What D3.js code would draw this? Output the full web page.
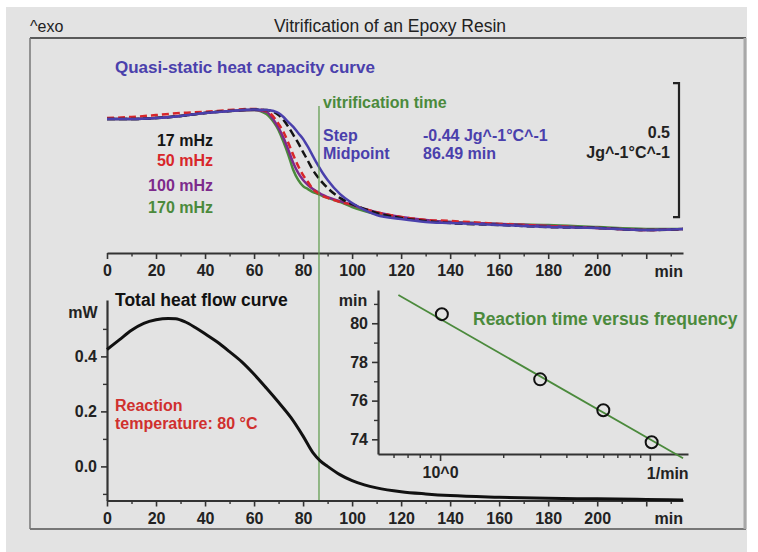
<!DOCTYPE html>
<html lang="en">
<head>
<meta charset="UTF-8" />
<title>Vitrification of an Epoxy Resin</title>
<script src="https://cdn.jsdelivr.net/npm/d3@7"></script>
<style>
  body { margin: 0; background: #fff; }
  svg text { font-family: "Liberation Sans", Arial, sans-serif; }
</style>
</head>
<body>
<script>
const width = 758, height = 552;

// time axis (min), shared by both panels
const times = [0, 10, 20, 30, 40, 50, 60, 65, 68, 70, 72, 74, 76, 78, 80, 82, 84, 86, 88, 90, 95, 100, 105, 110, 120, 130, 140, 160, 180, 200, 220, 235];

// heat capacity, J/g/°C
const cpQuasi = [1.866, 1.866, 1.870, 1.878, 1.889, 1.896, 1.902, 1.900, 1.896, 1.889, 1.874, 1.855, 1.837, 1.814, 1.792, 1.762, 1.728, 1.695, 1.665, 1.639, 1.587, 1.553, 1.527, 1.508, 1.493, 1.482, 1.478, 1.471, 1.463, 1.460, 1.452, 1.456];
const cp17 = [1.866, 1.866, 1.870, 1.878, 1.889, 1.896, 1.902, 1.900, 1.893, 1.881, 1.863, 1.837, 1.807, 1.777, 1.743, 1.710, 1.676, 1.650, 1.628, 1.609, 1.572, 1.549, 1.531, 1.516, 1.497, 1.486, 1.478, 1.471, 1.463, 1.460, 1.452, 1.456];
const cp50 = [1.870, 1.874, 1.881, 1.889, 1.893, 1.900, 1.904, 1.896, 1.874, 1.848, 1.818, 1.777, 1.732, 1.691, 1.657, 1.631, 1.605, 1.590, 1.579, 1.572, 1.557, 1.546, 1.531, 1.519, 1.501, 1.490, 1.486, 1.475, 1.467, 1.460, 1.452, 1.456];
const cp100 = [1.866, 1.866, 1.870, 1.878, 1.889, 1.896, 1.900, 1.893, 1.863, 1.833, 1.796, 1.751, 1.702, 1.665, 1.639, 1.620, 1.605, 1.594, 1.583, 1.575, 1.560, 1.546, 1.531, 1.519, 1.501, 1.490, 1.482, 1.475, 1.467, 1.460, 1.452, 1.456];
const cp170 = [1.866, 1.866, 1.870, 1.878, 1.889, 1.896, 1.900, 1.885, 1.855, 1.825, 1.781, 1.732, 1.676, 1.639, 1.616, 1.605, 1.594, 1.587, 1.579, 1.572, 1.557, 1.538, 1.523, 1.512, 1.497, 1.486, 1.482, 1.475, 1.471, 1.463, 1.456, 1.456];
const vitrTime = 86.49;

// total heat flow, mW
const heatTimes = [0, 5, 10, 15, 20, 25, 28, 32, 36, 40, 45, 50, 55, 60, 65, 70, 75, 80, 84, 87, 90, 95, 100, 105, 110, 120, 130, 140, 160, 180, 200, 220, 235];
const heatFlow = [0.425, 0.46, 0.495, 0.52, 0.533, 0.538, 0.537, 0.525, 0.505, 0.482, 0.452, 0.417, 0.38, 0.335, 0.285, 0.233, 0.178, 0.11, 0.05, 0.02, 0.0, -0.03, -0.052, -0.067, -0.078, -0.092, -0.10, -0.106, -0.112, -0.116, -0.118, -0.12, -0.122];

// inset: reaction time vs frequency
const freqs = [1.02, 3.0, 6.0, 10.2]; // 1/min
const reactTimes = [80.47, 77.1, 75.5, 73.85];
const fitFreqs = [0.633, 14.4];
const fitTimes = [81.46, 73.02];

const timeMajor = [0, 20, 40, 60, 80, 100, 120, 140, 160, 180, 200, 220];
const timeMinor = [10, 30, 50, 70, 90, 110, 130, 150, 170, 190, 210, 230];

const svg = d3.select("body").append("svg")
  .attr("width", width).attr("height", height);

svg.append("rect").attr("x", 6).attr("y", 7).attr("width", 741).attr("height", 545).attr("fill", "#e3e3e3");

// frame
svg.append("line").attr("x1", 30).attr("x2", 746).attr("y1", 38).attr("y2", 38).attr("stroke", "#5a5a5a").attr("stroke-width", 2);
svg.append("line").attr("x1", 30).attr("x2", 30).attr("y1", 38).attr("y2", 529).attr("stroke", "#777").attr("stroke-width", 1.5);
svg.append("line").attr("x1", 30).attr("x2", 746).attr("y1", 529).attr("y2", 529).attr("stroke", "#777").attr("stroke-width", 2);
svg.append("line").attr("x1", 745).attr("x2", 745).attr("y1", 38).attr("y2", 529).attr("stroke", "#a8a8a8").attr("stroke-width", 3);

svg.append("text").attr("x", 30).attr("y", 32).attr("font-size", 16).attr("fill", "#222").text("^exo");
svg.append("text").attr("x", 390).attr("y", 32).attr("font-size", 17.5).attr("fill", "#222")
  .attr("text-anchor", "middle").text("Vitrification of an Epoxy Resin");

const x = d3.scaleLinear().domain([0, 235]).range([107, 683]);
const yCp = d3.scaleLinear().domain([1.35, 2.0]).range([110 + 0.55 * 268, 110 - 0.1 * 268]);
const yHf = d3.scaleLinear().domain([-0.124, 0.605]).range([500.5, 300]);
const xIn = d3.scaleLog().domain([0.506, 15.2]).range([378, 688]);
const yIn = d3.scaleLinear().domain([73.24, 81.72]).range([454, 290]);

const styleAxis = (g) => {
  g.attr("font-family", null).attr("font-size", null);
  g.select(".domain").attr("stroke", "#333").attr("stroke-width", 2.2);
  g.selectAll(".tick line").attr("stroke", "#333").attr("stroke-width", 1.6);
  g.selectAll(".tick text").attr("font-size", 16).attr("font-weight", "bold").attr("fill", "#222");
};
const minorAxis = (g) => {
  g.select(".domain").remove();
  g.selectAll(".tick line").attr("stroke", "#333").attr("stroke-width", 1.4);
};

// time axes
[253, 500.5].forEach((y0) => {
  svg.append("g").attr("transform", `translate(0,${y0})`)
    .call(d3.axisBottom(x).tickValues(timeMajor).tickSize(6).tickPadding(6).tickSizeOuter(0)
      .tickFormat((d) => (d === 220 ? "" : d)))
    .call(styleAxis);
  svg.append("g").attr("transform", `translate(0,${y0})`)
    .call(d3.axisBottom(x).tickValues(timeMinor).tickSize(3.5).tickFormat(""))
    .call(minorAxis);
  svg.append("text").attr("x", 683).attr("y", y0 + 23.5).attr("text-anchor", "end")
    .attr("font-size", 16).attr("font-weight", "bold").attr("fill", "#222").text("min");
});

// heat capacity curves
const cpLine = d3.line().x((d) => x(d[0])).y((d) => yCp(d[1])).curve(d3.curveMonotoneX);
const cpSeries = [
  { vals: cp170, color: "#4b8a3c", dash: null },
  { vals: cp100, color: "#7d2a8c", dash: null },
  { vals: cp50, color: "#d8262a", dash: "7,4" },
  { vals: cp17, color: "#151515", dash: "8,4" },
  { vals: cpQuasi, color: "#4a40ac", dash: null },
];
cpSeries.forEach((s) => {
  svg.append("path")
    .datum(times.map((t, i) => [t, s.vals[i]]))
    .attr("fill", "none").attr("stroke", s.color).attr("stroke-width", 2.5)
    .attr("stroke-dasharray", s.dash)
    .attr("d", cpLine);
});

// scale bar 0.5 J/g/°C
const barX = 679;
svg.append("path")
  .attr("d", `M${barX - 6},${yCp(2.0)}H${barX}V${yCp(1.5)}H${barX - 6}`)
  .attr("fill", "none").attr("stroke", "#222").attr("stroke-width", 2.2);
svg.append("text").attr("x", 670).attr("y", 137.5).attr("text-anchor", "end")
  .attr("font-size", 16).attr("font-weight", "bold").attr("fill", "#222").text("0.5");
svg.append("text").attr("x", 670).attr("y", 157.5).attr("text-anchor", "end")
  .attr("font-size", 16).attr("font-weight", "bold").attr("fill", "#222").text("Jg^-1°C^-1");

svg.append("text").attr("x", 115).attr("y", 73).attr("font-size", 17).attr("font-weight", "bold")
  .attr("fill", "#4a40ac").text("Quasi-static heat capacity curve");

const legend = [
  { label: "17 mHz", color: "#151515", y: 146 },
  { label: "50 mHz", color: "#d8262a", y: 166 },
  { label: "100 mHz", color: "#7d2a8c", y: 190.5 },
  { label: "170 mHz", color: "#4b8a3c", y: 213 },
];
legend.forEach((l) => {
  svg.append("text").attr("x", 213).attr("y", l.y).attr("text-anchor", "end")
    .attr("font-size", 16).attr("font-weight", "bold").attr("fill", l.color).text(l.label);
});

// vitrification time
svg.append("line").attr("x1", x(vitrTime)).attr("x2", x(vitrTime)).attr("y1", 106).attr("y2", 500)
  .attr("stroke", "#5a9a48").attr("stroke-width", 1.2);
svg.append("text").attr("x", 323).attr("y", 107.5).attr("font-size", 16).attr("font-weight", "bold")
  .attr("fill", "#4b8a3c").text("vitrification time");
[["Step", "-0.44 Jg^-1°C^-1", 141], ["Midpoint", "86.49 min", 159]].forEach(([k, v, y0]) => {
  svg.append("text").attr("x", 323).attr("y", y0).attr("font-size", 16).attr("font-weight", "bold")
    .attr("fill", "#4a40ac").text(k);
  svg.append("text").attr("x", 423).attr("y", y0).attr("font-size", 16).attr("font-weight", "bold")
    .attr("fill", "#4a40ac").text(v);
});

// heat flow panel
svg.append("g").attr("transform", "translate(107,0)")
  .call(d3.axisLeft(yHf).tickValues([0, 0.2, 0.4]).tickSize(6).tickPadding(4).tickSizeOuter(0)
    .tickFormat(d3.format(".1f")))
  .call(styleAxis);
svg.append("g").attr("transform", "translate(107,0)")
  .call(d3.axisLeft(yHf).tickValues([-0.1, 0.1, 0.3, 0.5]).tickSize(4).tickFormat(""))
  .call(minorAxis);
svg.append("text").attr("x", 83).attr("y", 317.5).attr("text-anchor", "middle")
  .attr("font-size", 16).attr("font-weight", "bold").attr("fill", "#222").text("mW");

svg.append("path")
  .datum(heatTimes.map((t, i) => [t, heatFlow[i]]))
  .attr("fill", "none").attr("stroke", "#111").attr("stroke-width", 3)
  .attr("d", d3.line().x((d) => x(d[0])).y((d) => yHf(d[1])).curve(d3.curveMonotoneX));

svg.append("text").attr("x", 115).attr("y", 306).attr("font-size", 17.5).attr("font-weight", "bold")
  .attr("fill", "#111").text("Total heat flow curve");
svg.append("text").attr("x", 115).attr("y", 410.5).attr("font-size", 16).attr("font-weight", "bold")
  .attr("fill", "#d0302e").text("Reaction");
svg.append("text").attr("x", 115).attr("y", 428.5).attr("font-size", 16).attr("font-weight", "bold")
  .attr("fill", "#d0302e").text("temperature: 80 °C");

// inset
svg.append("g").attr("transform", "translate(378,0)")
  .call(d3.axisLeft(yIn).tickValues([74, 76, 78, 80]).tickSize(6).tickPadding(4).tickSizeOuter(0))
  .call(styleAxis);
svg.append("g").attr("transform", "translate(378,0)")
  .call(d3.axisLeft(yIn).tickValues([75, 77, 79, 81]).tickSize(4).tickFormat(""))
  .call(minorAxis);
svg.append("text").attr("x", 353).attr("y", 305.5).attr("text-anchor", "middle")
  .attr("font-size", 16).attr("font-weight", "bold").attr("fill", "#222").text("min");

svg.append("g").attr("transform", "translate(0,454)")
  .call(d3.axisBottom(xIn).tickValues([1, 10]).tickSize(7).tickPadding(6).tickSizeOuter(0)
    .tickFormat((d) => (d === 1 ? "10^0" : "")))
  .call(styleAxis);
svg.append("g").attr("transform", "translate(0,454)")
  .call(d3.axisBottom(xIn).tickValues([0.6, 0.7, 0.8, 0.9, 2, 3, 4, 5, 6, 7, 8, 9]).tickSize(4).tickFormat(""))
  .call(minorAxis);
svg.append("text").attr("x", xIn(10) - 3).attr("y", 479).attr("font-size", 16).attr("font-weight", "bold")
  .attr("fill", "#222").text("1/min");

svg.append("path")
  .datum(fitFreqs.map((f, i) => [f, fitTimes[i]]))
  .attr("fill", "none").attr("stroke", "#4b8a3c").attr("stroke-width", 1.8)
  .attr("d", d3.line().x((d) => xIn(d[0])).y((d) => yIn(d[1])));

svg.selectAll(".pt")
  .data(freqs.map((f, i) => [f, reactTimes[i]]))
  .join("circle")
  .classed("pt", true)
  .attr("cx", (d) => xIn(d[0])).attr("cy", (d) => yIn(d[1])).attr("r", 6)
  .attr("fill", "none").attr("stroke", "#111").attr("stroke-width", 2);

svg.append("text").attr("x", 473).attr("y", 325).attr("font-size", 17.5).attr("font-weight", "bold")
  .attr("fill", "#4b8a3c").text("Reaction time versus frequency");
</script>
</body>
</html>
